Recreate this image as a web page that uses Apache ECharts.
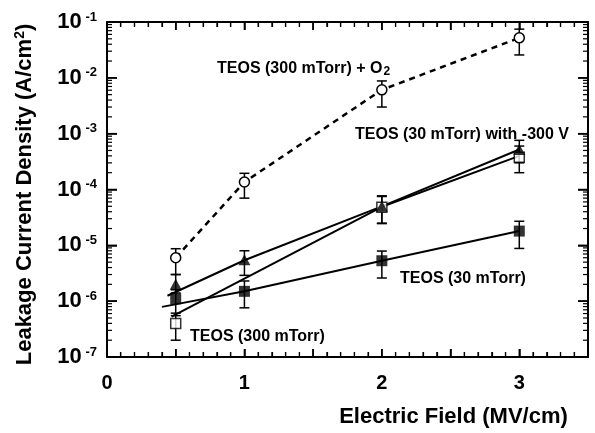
<!DOCTYPE html>
<html>
<head>
<meta charset="utf-8">
<script src="https://cdn.jsdelivr.net/npm/echarts@6/dist/echarts.min.js"></script>
<style>
html,body{margin:0;padding:0;background:#fff;}
#chart{width:595px;height:433px;background:#fff;}
</style>
</head>
<body>
<div id="chart"></div>
<script>
// ---- Data ----
// TEOS (300 mTorr) + O2  (open circles, dashed)
const o2X   = [0.5, 1, 2, 3];
const o2Val = [6.0e-6, 1.36e-4, 6.1e-3, 0.052];
const o2Lo  = [3.0e-6, 7.0e-5, 3.0e-3, 0.0257];
const o2Hi  = [8.7e-6, 1.95e-4, 8.8e-3, 0.0745];

// TEOS (30 mTorr) with -300 V  (filled triangles)
const triX   = [0.5, 1, 2, 3];
const triVal = [2.0e-6, 5.5e-6, 5.0e-5, 5.2e-4];
const triLo  = [1.4e-6, 2.9e-6, 2.45e-5, 3.0e-4];
const triHi  = [3.0e-6, 8.0e-6, 7.7e-5, 7.6e-4];
const triLineX = [0.44, 1, 2, 3];
const triLineY = [1.25e-6, 5.4e-6, 5.0e-5, 5.2e-4];

// TEOS (300 mTorr)  (open squares)
const sqoX   = [0.5, 2, 3];
const sqoVal = [4.0e-7, 4.8e-5, 3.8e-4];
const sqoLo  = [2.0e-7, 2.5e-5, 2.0e-4];
const sqoHi  = [5.5e-7, 7.5e-5, 6.0e-4];
const sqoLineX = [0.47, 2, 3];
const sqoLineY = [5.3e-7, 4.9e-5, 4.0e-4];

// TEOS (30 mTorr)  (filled squares)
const sqfX   = [0.5, 1, 2, 3];
const sqfVal = [1.1e-6, 1.5e-6, 5.3e-6, 1.8e-5];
const sqfLo  = [6.1e-7, 7.6e-7, 2.6e-6, 8.8e-6];
const sqfHi  = [1.6e-6, 2.3e-6, 7.9e-6, 2.7e-5];
const sqfLineX = [0.40, 1, 2, 3];
const sqfLineY = [7.9e-7, 1.5e-6, 5.3e-6, 1.8e-5];

// axes and tick positions
const xMin = 0, xMax = 3.5, xStep = 0.5;
const yMin = 1e-7, yMax = 1e-1;
const xMajorTicks = [0, 0.5, 1, 1.5, 2, 2.5, 3, 3.5];
const xMinorTenths = [1, 2, 3, 4, 6, 7, 8, 9];
const yMajorTicks = [1e-7, 1e-6, 1e-5, 1e-4, 1e-3, 1e-2, 1e-1];
const yMinorMult = [2, 3, 4, 5, 6, 7, 8, 9];

// ---- helpers ----
const zip = (xs, ys) => xs.map((x, i) => [x, ys[i]]);
const errData = (xs, lo, hi) => xs.map((x, i) => [x, lo[i], hi[i]]);
const xMinorTicks = [];
[0, 1, 2, 3].forEach(u => xMinorTenths.forEach(t => xMinorTicks.push(u + t / 10)));
const yMinorTicks = [];
yMajorTicks.slice(0, -1).forEach(d => yMinorMult.forEach(m => yMinorTicks.push(d * m)));

const FONT = '"Liberation Sans", Arial, Helvetica, sans-serif';
const INK = '#000000';

function errRender(params, api) {
  const x = api.value(0);
  const lo = api.coord([x, api.value(1)]);
  const hi = api.coord([x, api.value(2)]);
  const cap = 5;
  const st = { stroke: INK, lineWidth: 1.5, fill: null };
  return {
    type: 'group',
    children: [
      { type: 'line', shape: { x1: lo[0], y1: lo[1], x2: hi[0], y2: hi[1] }, style: st },
      { type: 'line', shape: { x1: lo[0] - cap, y1: lo[1], x2: lo[0] + cap, y2: lo[1] }, style: st },
      { type: 'line', shape: { x1: hi[0] - cap, y1: hi[1], x2: hi[0] + cap, y2: hi[1] }, style: st }
    ]
  };
}
function errSeries(xs, lo, hi) {
  return { type: 'custom', renderItem: errRender, data: errData(xs, lo, hi),
           encode: { x: 0, y: [1, 2] }, z: 3, silent: true };
}

// inside tick marks on all four sides, positioned through the axes' own scales
function tickSeries(kind, values, len, width) {
  return {
    type: 'custom', silent: true, z: 8,
    data: values.map(v => (kind === 'x' ? [v, yMin] : [xMin, v])),
    encode: { x: 0, y: 1 },
    renderItem: function (params, api) {
      const st = { stroke: INK, lineWidth: width, fill: null };
      if (kind === 'x') {
        const v = api.value(0);
        const b = api.coord([v, yMin]);
        const t = api.coord([v, yMax]);
        return { type: 'group', children: [
          { type: 'line', shape: { x1: b[0], y1: b[1], x2: b[0], y2: b[1] - len }, style: st },
          { type: 'line', shape: { x1: t[0], y1: t[1], x2: t[0], y2: t[1] + len }, style: st } ] };
      }
      const v = api.value(1);
      const l = api.coord([xMin, v]);
      const r = api.coord([xMax, v]);
      return { type: 'group', children: [
        { type: 'line', shape: { x1: l[0], y1: l[1], x2: l[0] + len, y2: l[1] }, style: st },
        { type: 'line', shape: { x1: r[0], y1: r[1], x2: r[0] - len, y2: r[1] }, style: st } ] };
    }
  };
}

const mkLine = () => ({ show: true, onZero: false, lineStyle: { color: INK, width: 2 } });
function xAxisDef(pos, extra) {
  return Object.assign({
    type: 'value', position: pos, min: xMin, max: xMax, interval: xStep,
    axisLine: mkLine(), splitLine: { show: false },
    axisTick: { show: true, inside: true, length: 8, lineStyle: { color: INK, width: 1.5 } },
    minorTick: { show: true, splitNumber: 5, length: 5, lineStyle: { color: INK, width: 1.2 } },
    axisLabel: { show: false }
  }, extra || {});
}
function yLogDef(pos, extra) {
  return Object.assign({
    type: 'log', position: pos, min: yMin, max: yMax,
    axisLine: mkLine(), splitLine: { show: false },
    axisTick: { show: true, inside: true, length: 10, lineStyle: { color: INK, width: 1.5 } },
    axisLabel: { show: false }
  }, extra || {});
}

const option = {
  animation: false,
  grid: { left: 107, right: 7, top: 22, bottom: 66 },
  xAxis: [
    xAxisDef('bottom', {
      axisLabel: { show: true, margin: 16, color: INK, fontFamily: FONT, fontWeight: 'bold', fontSize: 20,
                   formatter: v => (Math.abs(v - Math.round(v)) < 1e-9 ? String(Math.round(v)) : '') },
      name: 'Electric Field (MV/cm)', nameLocation: 'middle', nameGap: 49,
      nameTextStyle: { color: INK, fontFamily: FONT, fontWeight: 'bold', fontSize: 22, padding: [0, 0, 0, 212] }
    }),
    xAxisDef('top')
  ],
  yAxis: [
    yLogDef('left', {
      axisLabel: {
        show: true, margin: 10, color: INK,
        formatter: v => '{b|10}{s| ' + Math.round(Math.log10(v)) + '}',
        rich: {
          b: { fontFamily: FONT, fontWeight: 'bold', fontSize: 22, color: INK, lineHeight: 24 },
          s: { fontFamily: FONT, fontWeight: 'bold', fontSize: 13, color: INK, lineHeight: 24, padding: [0, 0, 10, 0] }
        }
      },
      name: '{t|Leakage Current Density (A/cm}{sup|2}{t|)}', nameLocation: 'middle', nameGap: 69, nameRotate: 90,
      nameTextStyle: {
        padding: [0, 10, 0, 0],
        rich: {
          t: { fontFamily: FONT, fontWeight: 'bold', fontSize: 22, color: INK, lineHeight: 26 },
          sup: { fontFamily: FONT, fontWeight: 'bold', fontSize: 14, color: INK, lineHeight: 26, padding: [0, 0, 10, 0] }
        }
      }
    }),
    yLogDef('right')
  ],
  series: [
    errSeries(o2X, o2Lo, o2Hi),
    errSeries(triX, triLo, triHi),
    errSeries(sqoX, sqoLo, sqoHi),
    errSeries(sqfX, sqfLo, sqfHi),
    { type: 'line', data: zip(o2X, o2Val), z: 4, symbol: 'circle', symbolSize: 10,
      lineStyle: { color: INK, width: 2.5, type: [6, 5] },
      itemStyle: { color: '#fff', borderColor: INK, borderWidth: 1.5 } },
    { type: 'line', data: zip(triLineX, triLineY), z: 4, showSymbol: false, symbol: 'none',
      lineStyle: { color: INK, width: 2 } },
    { type: 'line', data: zip(sqoLineX, sqoLineY), z: 4, showSymbol: false, symbol: 'none',
      lineStyle: { color: INK, width: 2 } },
    { type: 'line', data: zip(sqfLineX, sqfLineY), z: 4, showSymbol: false, symbol: 'none',
      lineStyle: { color: INK, width: 2 } },
    { type: 'scatter', data: zip(sqoX, sqoVal), z: 5, symbol: 'rect', symbolSize: 10,
      itemStyle: { color: '#fff', borderColor: INK, borderWidth: 1.5 } },
    { type: 'scatter', data: zip(sqfX, sqfVal), z: 6, symbol: 'rect', symbolSize: 11,
      itemStyle: { color: INK } },
    { type: 'scatter', data: zip(triX, triVal), z: 7, symbol: 'triangle', symbolSize: [12, 11],
      itemStyle: { color: INK } },
    tickSeries('x', xMajorTicks, 8, 1.5),
    tickSeries('x', xMinorTicks, 5, 1.2),
    tickSeries('y', yMajorTicks, 10, 1.5),
    tickSeries('y', yMinorTicks, 5, 1.2)
  ],
  graphic: [
    { type: 'text', left: 217, top: 60, style: { text: '{a|TEOS (300 mTorr) + O}{b|2}',
      rich: { a: { fontFamily: FONT, fontWeight: 'bold', fontSize: 16, fill: INK, lineHeight: 20 },
              b: { fontFamily: FONT, fontWeight: 'bold', fontSize: 12, fill: INK, lineHeight: 20, padding: [6, 0, 0, 1] } } } },
    { type: 'text', left: 355, top: 127, style: { text: 'TEOS (30 mTorr) with -300 V',
      font: 'bold 16px ' + FONT, fill: INK } },
    { type: 'text', left: 400, top: 271, style: { text: 'TEOS (30 mTorr)',
      font: 'bold 16px ' + FONT, fill: INK } },
    { type: 'text', left: 190, top: 329, style: { text: 'TEOS (300 mTorr)',
      font: 'bold 16px ' + FONT, fill: INK } }
  ]
};
const chart = echarts.init(document.getElementById('chart'));
chart.setOption(option);
</script>
</body>
</html>
